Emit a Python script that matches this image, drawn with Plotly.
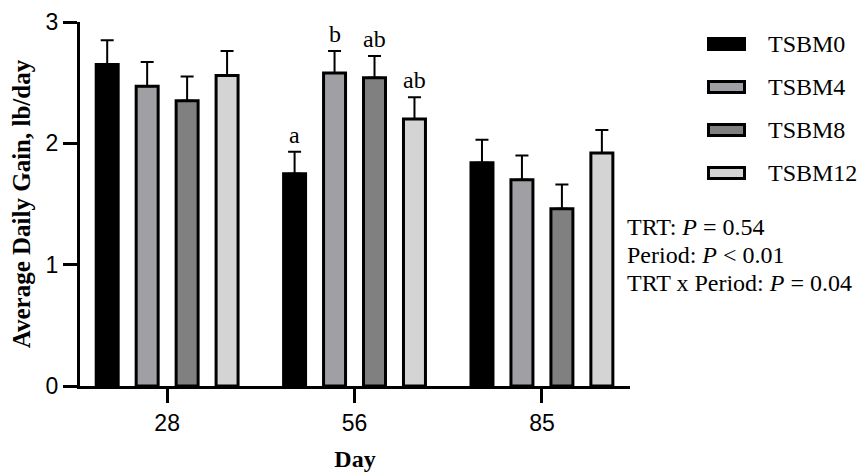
import plotly.graph_objects as go

days = ["28", "56", "85"]
series_names = ["TSBM0", "TSBM4", "TSBM8", "TSBM12"]
adg_tsbm0 = [2.65, 1.75, 1.84]
adg_tsbm4 = [2.47, 2.58, 1.70]
adg_tsbm8 = [2.35, 2.54, 1.46]
adg_tsbm12 = [2.56, 2.20, 1.92]
se_tsbm0 = [0.20, 0.18, 0.19]
se_tsbm4 = [0.20, 0.18, 0.20]
se_tsbm8 = [0.20, 0.18, 0.20]
se_tsbm12 = [0.20, 0.18, 0.19]
# significance letters for day 56
letters_day56 = ["a", "b", "ab", "ab"]
pvalue_lines = ["TRT: <i>P</i> = 0.54", "Period: <i>P</i> < 0.01", "TRT x Period: <i>P</i> = 0.04"]

colors = ["#000000", "#a0a0a4", "#808080", "#d4d4d4"]
values = [adg_tsbm0, adg_tsbm4, adg_tsbm8, adg_tsbm12]
ses = [se_tsbm0, se_tsbm4, se_tsbm8, se_tsbm12]

SERIF = "Liberation Serif, Times New Roman, serif"
SANS = "Liberation Sans, Arial, sans-serif"

fig = go.Figure()
for name, vals, se, col in zip(series_names, values, ses, colors):
    fig.add_trace(go.Bar(
        x=days, y=vals, name=name, showlegend=False,
        marker=dict(color=col, line=dict(color="black", width=3)),
        error_y=dict(type="data", array=se, arrayminus=[0] * len(se), symmetric=False,
                     color="black", thickness=2, width=6.5),
    ))

BARGAP = 0.147
n = len(series_names)
pitch = (1 - BARGAP) / n
annotations = []
for i, letter in enumerate(letters_day56):
    j = days.index("56")
    annotations.append(dict(
        x=j + (i - (n - 1) / 2) * pitch, y=values[i][j] + ses[i][j], xref="x", yref="y",
        text=letter, showarrow=False, yanchor="bottom", yshift=2,
        font=dict(family=SERIF, size=24, color="black")))

# page offset (default body margin of the html page)
OFF = 8
FIG_W, FIG_H = 865 - OFF, 472 - OFF
# plot area in window pixels
plot_top, plot_bottom, plot_left, plot_right = 22, 386, 80, 630
H = plot_bottom - plot_top
W = plot_right - plot_left

for k, line in enumerate(pvalue_lines):
    annotations.append(dict(
        x=(625 - plot_left) / W, y=(plot_bottom - (227 + 28 * k)) / H, xref="paper", yref="paper",
        text=line, showarrow=False, xanchor="left", yanchor="middle",
        font=dict(family=SERIF, size=24, color="black")))

# manual legend
shapes = []
for k, (name, col) in enumerate(zip(series_names, colors)):
    cy = 44 + 43 * k
    shapes.append(dict(
        type="rect", xref="paper", yref="paper",
        x0=(708.5 - plot_left) / W, x1=(744.5 - plot_left) / W,
        y0=(plot_bottom - (cy + 5.5)) / H, y1=(plot_bottom - (cy - 5.5)) / H,
        fillcolor=col, line=dict(color="black", width=3)))
    annotations.append(dict(
        x=(766 - plot_left) / W, y=(plot_bottom - cy) / H, xref="paper", yref="paper",
        text=name, showarrow=False, xanchor="left", yanchor="middle",
        font=dict(family=SERIF, size=24, color="black")))

fig.update_layout(
    width=FIG_W, height=FIG_H,
    margin=dict(l=plot_left - OFF, r=FIG_W - (plot_right - OFF), t=plot_top - OFF,
                b=FIG_H - (plot_bottom - OFF), autoexpand=False),
    paper_bgcolor="white", plot_bgcolor="white",
    barmode="group", bargap=BARGAP, bargroupgap=0.45,
    annotations=annotations, shapes=shapes,
    xaxis=dict(
        type="category", range=[-0.465, 2.47], showline=True, linecolor="black", linewidth=3,
        ticks="outside", ticklen=14, tickwidth=3, tickcolor="black",
        tickfont=dict(family=SANS, size=23, color="black"), automargin=False,
        showgrid=False, zeroline=False,
        title=dict(text="<b>Day</b>", font=dict(family=SERIF, size=24, color="black"), standoff=20),
    ),
    yaxis=dict(
        range=[0, 3], dtick=1, showline=True, linecolor="black", linewidth=3,
        ticks="outside", ticklen=14, tickwidth=3, tickcolor="black",
        tickfont=dict(family=SANS, size=23, color="black"), automargin=False,
        showgrid=False, zeroline=False,
        title=dict(text="<b>Average Daily Gain, lb/day</b>", font=dict(family=SERIF, size=25, color="black"), standoff=9),
    ),
)

fig.write_html("out.html")
